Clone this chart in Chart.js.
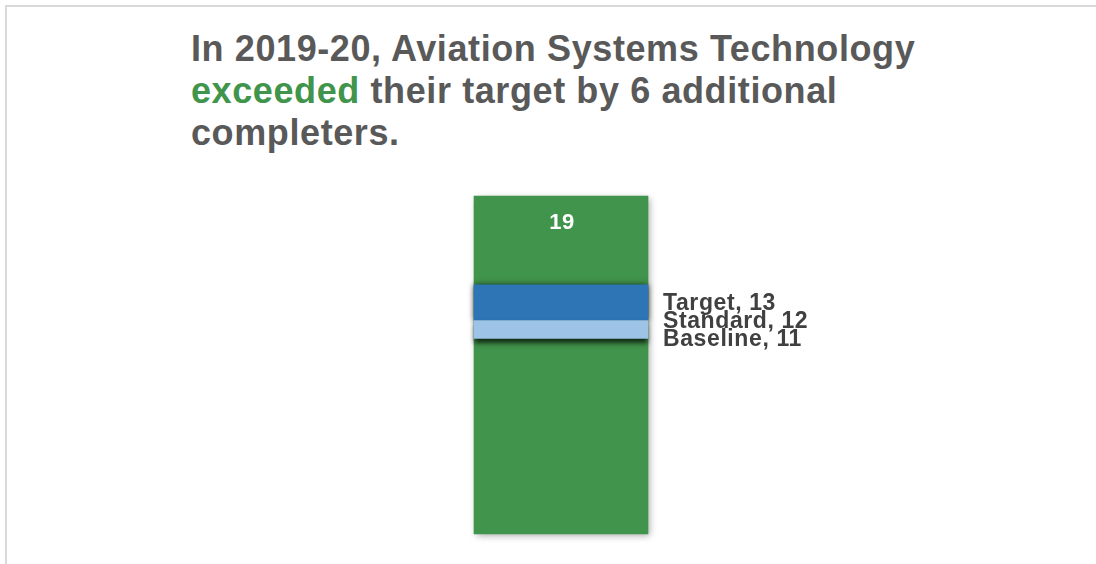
<!DOCTYPE html>
<html>
<head>
<meta charset="utf-8">
<title>Aviation Systems Technology completers</title>
<script src="https://cdn.jsdelivr.net/npm/chart.js@4/dist/chart.umd.min.js"></script>
<style>
    html, body { margin: 0; padding: 0; background: #ffffff; overflow: hidden; }
    #panel { position: absolute; left: 5px; top: 5px; width: 1200px; height: 700px; border: 2px solid #d9d9d9; box-sizing: border-box; }
    #panel-title { position: absolute; left: 191px; top: 28px; margin: 0; font: bold 36px "Liberation Sans", Arial, sans-serif; letter-spacing: 0.6px; line-height: 42px; color: #595959; white-space: nowrap; }
    #panel-title .good { color: #41944b; }
    #panel-chart { position: absolute; left: 0; top: 0; }
</style>
</head>
<body>
<div id="panel"></div>
<h1 id="panel-title">In 2019-20, Aviation Systems Technology<br><span class="good">exceeded</span> their target by 6 additional<br>completers.</h1>
<canvas id="panel-chart" width="1096" height="564"></canvas>
<script>

const categories = ['2019-20'];

const completers = [19];

const markerNames = ['Target', 'Standard', 'Baseline'];

const markerValues = [13, 12, 11];

const axisMax = 19;

const [target, standard, baseline] = markerValues;

const colors = {
    bar: '#41944b',
    target: '#2e75b6',
    standard: '#9dc3e6',
    text: '#404040'
};

// shadows drawn per dataset, bands get a heavier one than the main bar
const shadows = [
    { color: 'rgba(0, 0, 0, 0.75)', blur: 5, x: 0, y: 4 },
    { color: 'rgba(0, 0, 0, 0.75)', blur: 6, x: 0, y: 0 },
    { color: 'rgba(0, 0, 0, 0.35)', blur: 7, x: 2, y: 2 }
];

const shadowPlugin = {
    id: 'shadowPlugin',
    beforeDatasetDraw: (chart, args) => {
        const s = shadows[args.index];
        const ctx = chart.ctx;
        ctx.save();
        ctx.shadowColor = s.color;
        ctx.shadowBlur = s.blur;
        ctx.shadowOffsetX = s.x;
        ctx.shadowOffsetY = s.y;
    },
    afterDatasetDraw: chart => {
        chart.ctx.restore();
    }
};

const labelPlugin = {
    id: 'labelPlugin',
    afterDatasetsDraw: chart => {

        const ctx = chart.ctx;
        const yScale = chart.scales.y;
        const bar = chart.getDatasetMeta(2).data[0];

        ctx.save();

        ctx.textBaseline = 'middle';

        ctx.font = 'bold 22px "Liberation Sans", Arial, sans-serif';
        ctx.letterSpacing = '0.5px';
        ctx.fillStyle = '#ffffff';
        ctx.textAlign = 'center';
        ctx.fillText(String(completers[0]), bar.x + 1, yScale.getPixelForValue(completers[0]) + 27);

        ctx.font = 'bold 23px "Liberation Sans", Arial, sans-serif';
        ctx.letterSpacing = '0.6px';
        ctx.fillStyle = colors.text;
        ctx.textAlign = 'left';
        markerNames.forEach((name, i) => {
            ctx.fillText(name + ', ' + markerValues[i], bar.x + bar.width / 2 + 15, yScale.getPixelForValue(markerValues[i]) + 1);
        });

        ctx.restore();
    }
};

const chart = document.getElementById('panel-chart');

new Chart(chart.getContext('2d'), {
    type: 'bar',
    data: {
        labels: categories,
        datasets: [
            {
                label: 'Standard',
                data: [[baseline, standard]],
                backgroundColor: colors.standard,
                order: 0
            },
            {
                label: 'Target',
                data: [[target - 1, target + 1]],
                backgroundColor: colors.target,
                order: 1
            },
            {
                label: 'Completers',
                data: completers,
                backgroundColor: colors.bar,
                order: 2
            }
        ]
    },
    options: {
        responsive: false,
        animation: false,
        devicePixelRatio: 1,
        layout: {
            padding: { top: 196, bottom: 30, left: 400, right: 374 }
        },
        datasets: {
            bar: {
                grouped: false,
                barThickness: 174,
                borderWidth: 0,
                clip: false
            }
        },
        scales: {
            x: { display: false },
            y: { display: false, min: 0, max: axisMax }
        },
        plugins: {
            legend: { display: false },
            tooltip: { enabled: false }
        }
    },
    plugins: [shadowPlugin, labelPlugin]
});

</script>
</body>
</html>
